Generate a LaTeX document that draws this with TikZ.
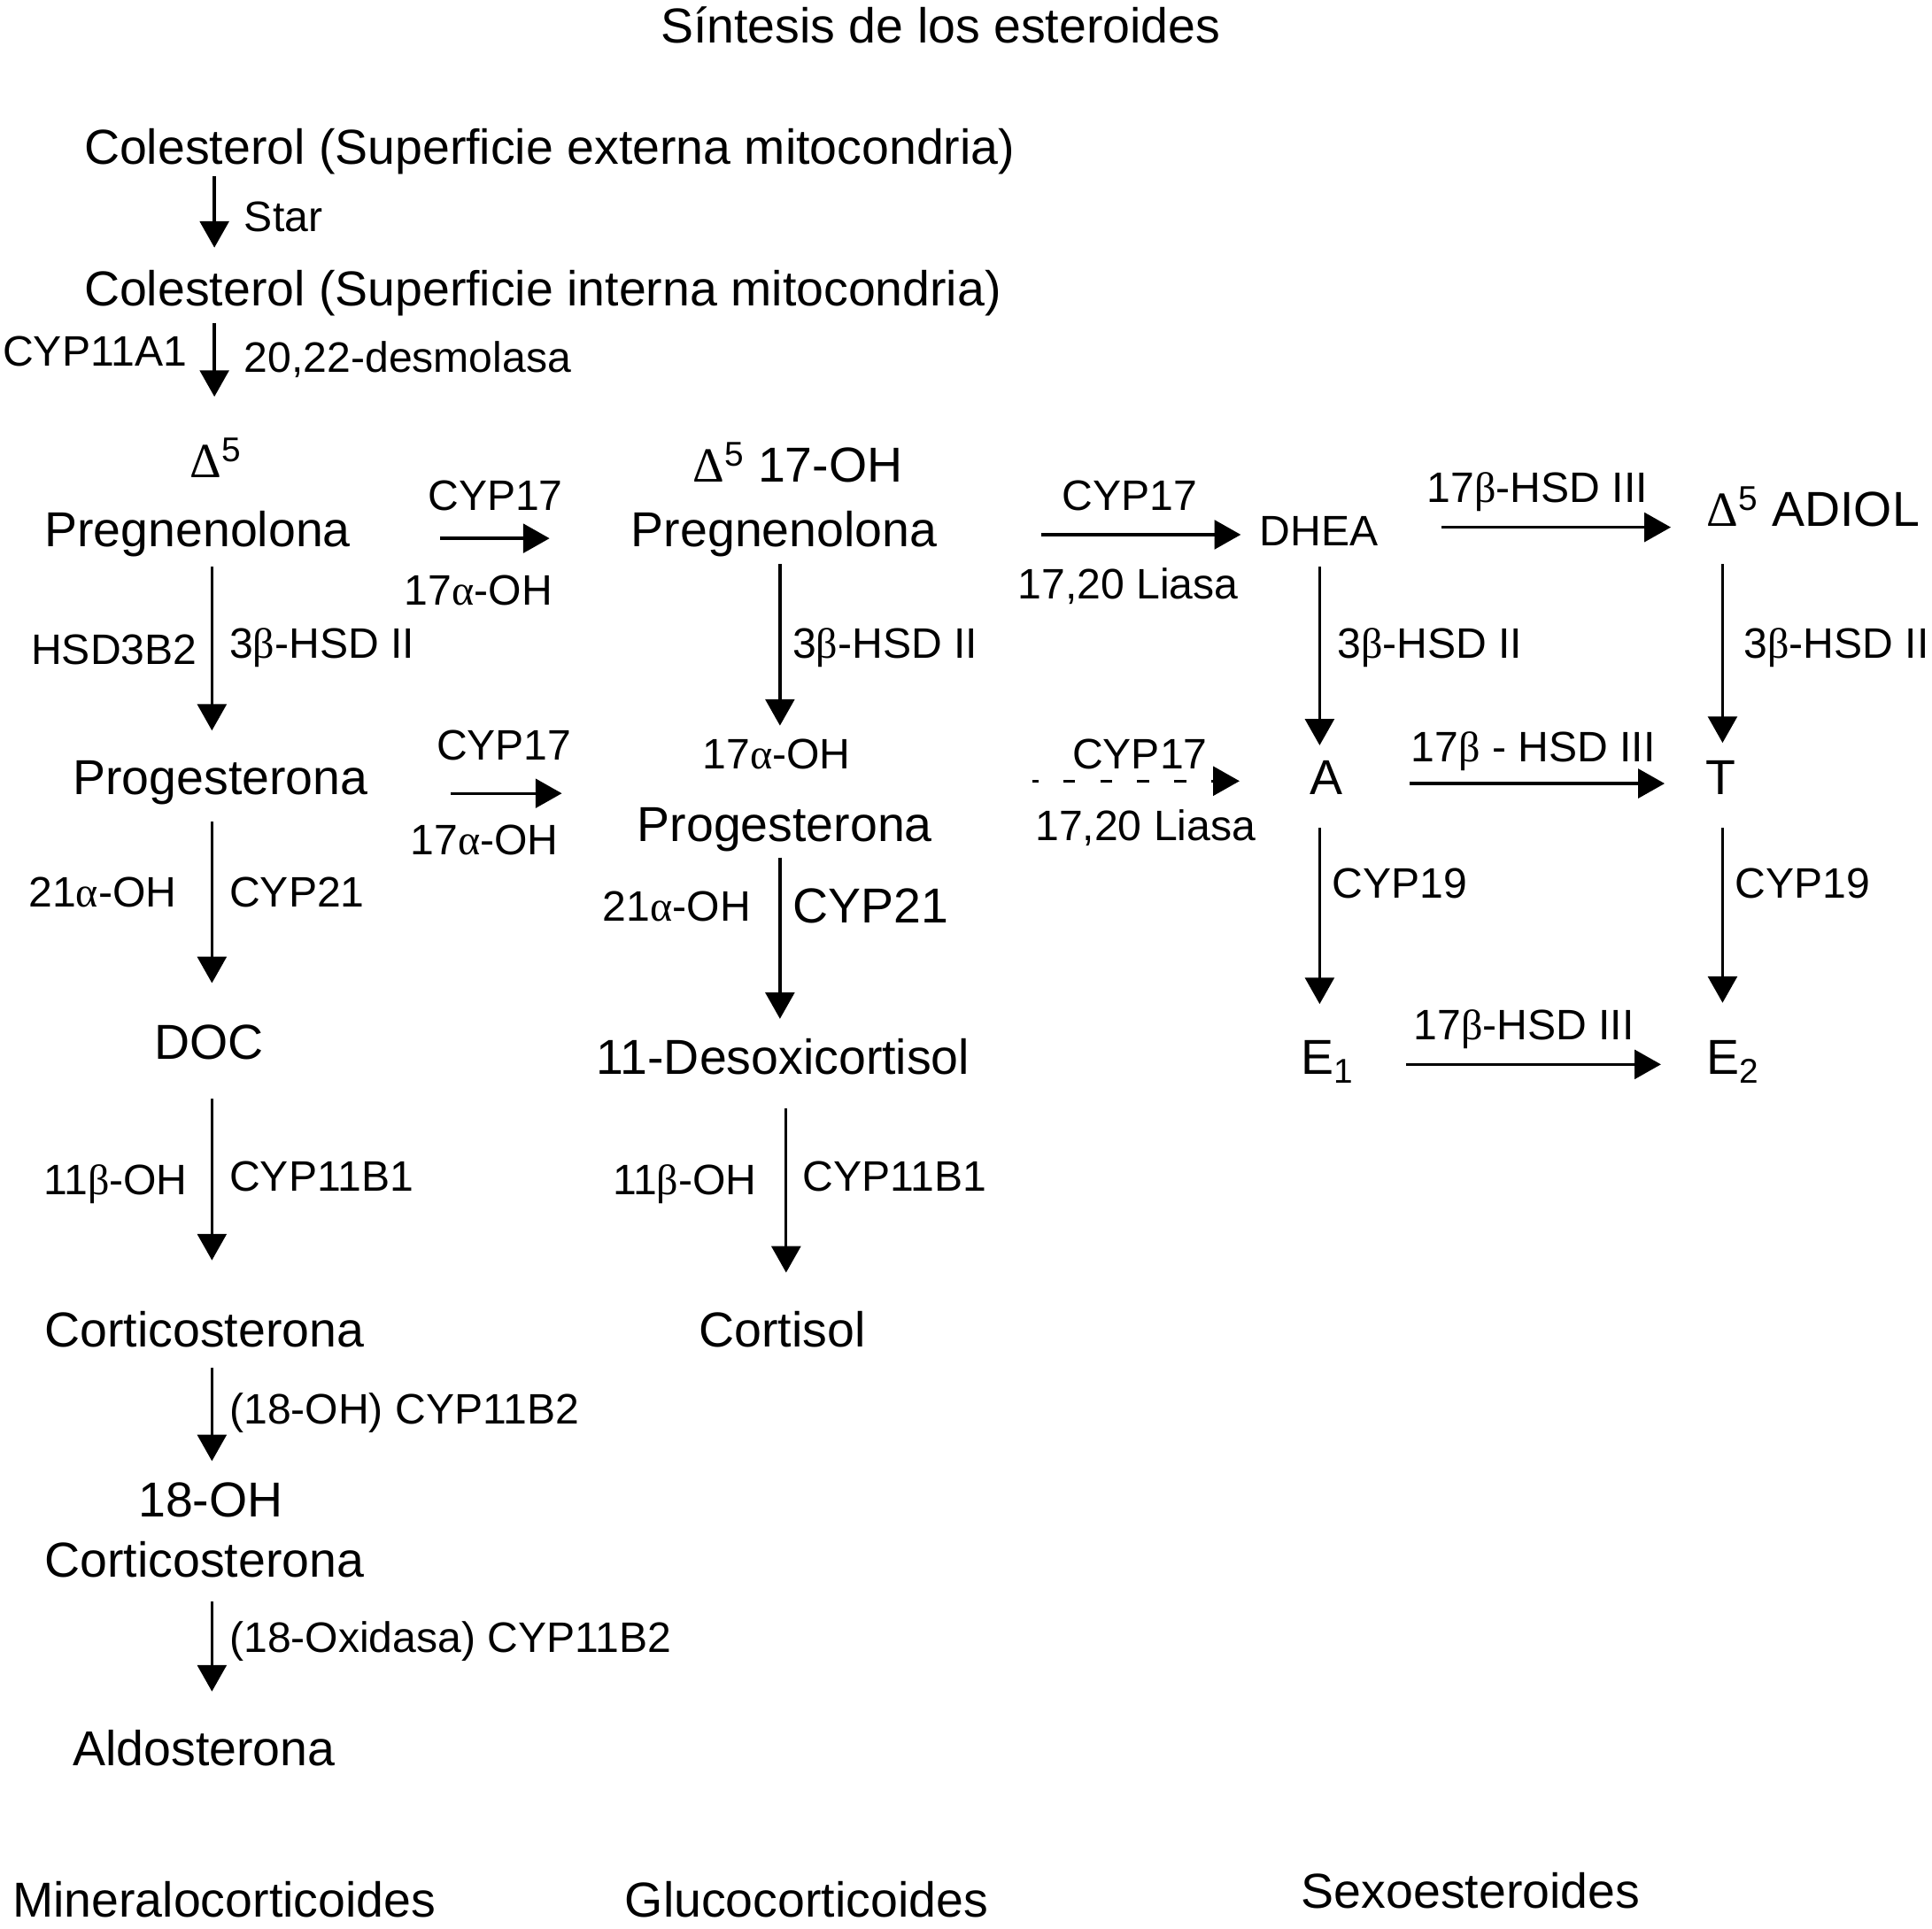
\documentclass[tikz,border=0pt]{standalone}
\usepackage{fontspec}
\setmainfont{Liberation Sans}
\newfontfamily\grk{Liberation Serif}
\usetikzlibrary{arrows.meta}
\newcommand{\gal}{{\grk α}}
\newcommand{\gbe}{{\grk β}}
\newcommand{\gDe}{{\grk Δ}\textsuperscript{5}}
\tikzset{
  big/.style={font=\fontsize{27.9pt}{30pt}\selectfont, anchor=base west, inner sep=0pt},
  small/.style={font=\fontsize{24.2pt}{26pt}\selectfont, anchor=base west, inner sep=0pt},
  arr/.style={line width=1.65pt, -{Triangle[length=15pt,width=16.5pt]}},
  darr/.style={arr, dash pattern=on 6.7pt off 14.3pt, dash phase=3.5pt}
}
\begin{document}
\begin{tikzpicture}[x=0.7pt,y=-0.7pt]
\useasboundingbox[fill=white] (0,0) rectangle (1568,1565.8);
% title
\node[big] (title) at (536,35) {Síntesis de los esteroides};
% cholesterol
\node[big] (colext) at (68,133) {Colesterol (Superficie externa mitocondria)};
\node[small] (star) at (198,188) {Star};
\node[big] (colint) at (68,248) {Colesterol (Superficie interna mitocondria)};
\node[small] (cyp11a1) at (2,297) {CYP11A1};
\node[small] (desmol) at (198,302) {20,22-desmolasa};
% row 1
\node[big,anchor=base] (d5a) at (175,388) {\gDe};
\node[big] (preg) at (36,444) {Pregnenolona};
\node[small] (cyp17a) at (347,414) {CYP17};
\node[small] (ohA) at (328,491) {17\gal-OH};
\node[big] (d5b) at (562,391) {\gDe\ 17-OH};
\node[big] (pregoh) at (512,444) {Pregnenolona};
\node[small] (cyp17b) at (862,414) {CYP17};
\node[small] (liasa1) at (826,486) {17,20 Liasa};
\node[small] (dhea) at (1022,443) {DHEA};
\node[small] (hsd17a) at (1158,408) {17\gbe-HSD III};
\node[big] (adiol) at (1385,427) {\gDe\ ADIOL};
% vertical labels row 1
\node[small] (hsd3b2) at (25,539) {HSD3B2};
\node[small] (hsdA) at (186,534) {3\gbe-HSD II};
\node[small] (hsdB) at (643,534) {3\gbe-HSD II};
\node[small] (hsdC) at (1085,534) {3\gbe-HSD II};
\node[small] (hsdD) at (1415,534) {3\gbe-HSD II};
% row 2
\node[big] (prog) at (59,645) {Progesterona};
\node[small] (cyp17c) at (354,617) {CYP17};
\node[small] (ohB) at (333,694) {17\gal-OH};
\node[small] (ohC) at (570,624) {17\gal-OH};
\node[big] (progoh) at (517,683) {Progesterona};
\node[small] (cyp17d) at (870,624) {CYP17};
\node[small] (liasa2) at (840,682) {17,20 Liasa};
\node[big] (andro) at (1063,645) {A};
\node[small] (hsd17b) at (1145,618) {17\gbe\ - HSD III};
\node[big] (testo) at (1384,645) {T};
% vertical labels row 2
\node[small] (oh21a) at (23,736) {21\gal-OH};
\node[small] (cyp21a) at (186,736) {CYP21};
\node[small] (oh21b) at (489,748) {21\gal-OH};
\node[big] (cyp21b) at (643,749) {CYP21};
\node[small] (cyp19a) at (1081,729) {CYP19};
\node[small] (cyp19b) at (1408,729) {CYP19};
% row 3
\node[big] (doc) at (125,860) {DOC};
\node[big] (desoxi) at (484,872) {11-Desoxicortisol};
\node[big] (e1) at (1056,872) {E\textsubscript{1}};
\node[small] (hsd17c) at (1147,844) {17\gbe-HSD III};
\node[big] (e2) at (1385,872) {E\textsubscript{2}};
% vertical labels row 3
\node[small] (oh11a) at (35,970) {11\gbe-OH};
\node[small] (cyp11b1a) at (186,967) {CYP11B1};
\node[small] (oh11b) at (497,970) {11\gbe-OH};
\node[small] (cyp11b1b) at (651,967) {CYP11B1};
% row 4
\node[big] (cortico) at (36,1093) {Corticosterona};
\node[big] (cortisol) at (567,1093) {Cortisol};
\node[small] (cyp11b2a) at (186,1156) {(18-OH) CYP11B2};
\node[big] (oh18) at (112,1231) {18-OH};
\node[big] (cortico2) at (36,1280) {Corticosterona};
\node[small] (cyp11b2b) at (186,1341) {(18-Oxidasa) CYP11B2};
\node[big] (aldo) at (59,1433) {Aldosterona};
% bottom groups
\node[big] (mineral) at (10,1556) {Mineralocorticoides};
\node[big] (gluco) at (507,1556) {Glucocorticoides};
\node[big] (sexo) at (1056,1549) {Sexoesteroides};
% arrow coordinates
\coordinate (v1s) at (174,143); \coordinate (v1e) at (174,201);
\coordinate (v2s) at (174,262); \coordinate (v2e) at (174,322);
\coordinate (h1s) at (357,437); \coordinate (h1e) at (446,437);
\coordinate (h2s) at (845,434); \coordinate (h2e) at (1007,434);
\coordinate (h3s) at (1170,428); \coordinate (h3e) at (1356,428);
\coordinate (v3s) at (172,460); \coordinate (v3e) at (172,593);
\coordinate (v4s) at (633,458); \coordinate (v4e) at (633,589);
\coordinate (v5s) at (1071,460); \coordinate (v5e) at (1071,605);
\coordinate (v6s) at (1398,458); \coordinate (v6e) at (1398,603);
\coordinate (h4s) at (366,644); \coordinate (h4e) at (456,644);
\coordinate (h5s) at (838,634); \coordinate (h5e) at (1006,634);
\coordinate (h6s) at (1144,636); \coordinate (h6e) at (1351,636);
\coordinate (v7s) at (172,667); \coordinate (v7e) at (172,798);
\coordinate (v8s) at (633,696); \coordinate (v8e) at (633,827);
\coordinate (v9s) at (1071,672); \coordinate (v9e) at (1071,815);
\coordinate (v10s) at (1398,672); \coordinate (v10e) at (1398,814);
\coordinate (h7s) at (1141,864); \coordinate (h7e) at (1348,864);
\coordinate (v11s) at (172,892); \coordinate (v11e) at (172,1023);
\coordinate (v12s) at (638,900); \coordinate (v12e) at (638,1033);
\coordinate (v13s) at (172,1110); \coordinate (v13e) at (172,1186);
\coordinate (v14s) at (172,1300); \coordinate (v14e) at (172,1373);
\foreach \a in {v1,v2,h1,h2,h3,v3,v4,v5,v6,h4,h6,v7,v8,v9,v10,h7,v11,v12,v13,v14}
  \draw[arr] (\a s) -- (\a e);
\draw[darr] (h5s) -- (h5e);
\end{tikzpicture}
\end{document}
